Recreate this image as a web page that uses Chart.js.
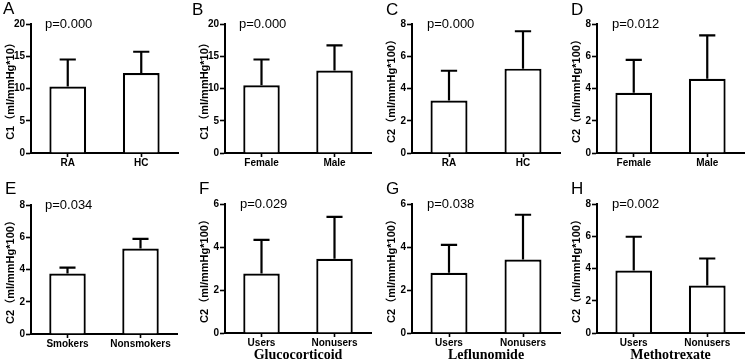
<!DOCTYPE html>
<html>
<head>
<meta charset="utf-8">
<script src="https://cdn.jsdelivr.net/npm/chart.js@4.4.1/dist/chart.umd.min.js"></script>
<style>
    html, body { margin: 0; padding: 0; background: #fff; }
    #wrap { position: relative; width: 746px; height: 364px; }
    #wrap canvas { position: absolute; left: 0; top: 0; }
</style>
</head>
<body>
<div id="wrap"></div>
<script>
// bar = mean, whisker = mean + SD
const labelsA = ['RA', 'HC'];
const meanA = [10.3, 12.4];
const sdA = [4.2, 3.3];

const labelsB = ['Female', 'Male'];
const meanB = [10.5, 12.8];
const sdB = [4.0, 3.9];

const labelsC = ['RA', 'HC'];
const meanC = [3.25, 5.23];
const sdC = [1.85, 2.32];

const labelsD = ['Female', 'Male'];
const meanD = [3.74, 4.6];
const sdD = [2.04, 2.7];

const labelsE = ['Smokers', 'Nonsmokers'];
const meanE = [3.75, 5.3];
const sdE = [0.37, 0.6];

const labelsF = ['Users', 'Nonusers'];
const meanF = [2.77, 3.45];
const sdF = [1.56, 1.95];

const labelsG = ['Users', 'Nonusers'];
const meanG = [2.8, 3.42];
const sdG = [1.3, 2.08];

const labelsH = ['Users', 'Nonusers'];
const meanH = [3.88, 2.95];
const sdH = [2.09, 1.67];

const pValues = ['p=0.000', 'p=0.000', 'p=0.000', 'p=0.012', 'p=0.034', 'p=0.029', 'p=0.038', 'p=0.002'];
const yTitleC1 = 'C1（ml/mmHg*10）';
const yTitleC2 = 'C2（ml/mmHg*100）';

const SANS = "'Liberation Sans', Arial, 'Noto Sans CJK SC', sans-serif";
const SERIF = "'Liberation Serif', 'Times New Roman', serif";
const W = 746, H = 364;

// layout of each panel: chart area box, letter and p-value positions
const panels = [
    { letter: 'A', labels: labelsA, mean: meanA, sd: sdA, max: 20, step: 5, yTitle: yTitleC1, box: [31, 178, 24, 153], lx: 3, ly: 14, px: 45, py: 28 },
    { letter: 'B', labels: labelsB, mean: meanB, sd: sdB, max: 20, step: 5, yTitle: yTitleC1, box: [225, 371, 24, 153], lx: 192, ly: 15, px: 239, py: 28 },
    { letter: 'C', labels: labelsC, mean: meanC, sd: sdC, max: 8, step: 2, yTitle: yTitleC2, box: [412, 560, 24, 153], lx: 386, ly: 15, px: 427, py: 28 },
    { letter: 'D', labels: labelsD, mean: meanD, sd: sdD, max: 8, step: 2, yTitle: yTitleC2, box: [597, 744, 24, 153], lx: 571, ly: 15, px: 612, py: 28 },
    { letter: 'E', labels: labelsE, mean: meanE, sd: sdE, max: 8, step: 2, yTitle: yTitleC2, box: [31, 177, 205, 334], lx: 5, ly: 194, px: 45, py: 209 },
    { letter: 'F', labels: labelsF, mean: meanF, sd: sdF, max: 6, step: 2, yTitle: yTitleC2, box: [225, 371, 204, 333], lx: 199, ly: 194, px: 240, py: 208, xTitle: 'Glucocorticoid' },
    { letter: 'G', labels: labelsG, mean: meanG, sd: sdG, max: 6, step: 2, yTitle: yTitleC2, box: [412, 560, 204, 333], lx: 386, ly: 194, px: 427, py: 208, xTitle: 'Leflunomide' },
    { letter: 'H', labels: labelsH, mean: meanH, sd: sdH, max: 8, step: 2, yTitle: yTitleC2, box: [597, 744, 204, 333], lx: 571, ly: 194, px: 612, py: 208, xTitle: 'Methotrexate' },
];

const errorBars = {
    id: 'errorBars',
    afterDatasetsDraw(chart) {
        const { ctx, scales: { y } } = chart;
        const ds = chart.data.datasets[0];
        ctx.save();
        ctx.strokeStyle = '#000';
        ctx.lineWidth = 2.2;
        chart.getDatasetMeta(0).data.forEach((bar, i) => {
            const top = y.getPixelForValue(ds.data[i] + ds.sd[i]);
            const half = bar.width * 0.22;
            ctx.beginPath();
            ctx.moveTo(bar.x, bar.y);
            ctx.lineTo(bar.x, top);
            ctx.moveTo(bar.x - half, top);
            ctx.lineTo(bar.x + half, top);
            ctx.stroke();
        });
        ctx.restore();
    }
};

const panelText = {
    id: 'panelText',
    afterDraw(chart, args, opts) {
        const { ctx } = chart;
        ctx.save();
        ctx.fillStyle = '#000';
        ctx.textBaseline = 'alphabetic';
        ctx.textAlign = 'left';
        ctx.font = `17px ${SANS}`;
        ctx.fillText(opts.letter, opts.lx, opts.ly);
        ctx.font = `13px ${SANS}`;
        ctx.fillText(opts.p, opts.px, opts.py);
        ctx.restore();
    }
};

const wrap = document.getElementById('wrap');
const YW = 27;

panels.forEach((p, idx) => {
    const canvas = document.createElement('canvas');
    canvas.width = W;
    canvas.height = H;
    wrap.appendChild(canvas);
    const [left, right, top, bottom] = p.box;
    const xH = p.xTitle ? H - bottom : 22;
    const axisGrid = (len) => ({ display: true, drawOnChartArea: false, drawTicks: true, tickLength: len, tickWidth: 1.6, tickColor: '#000', offset: false });

    new Chart(canvas, {
        type: 'bar',
        data: {
            labels: p.labels,
            datasets: [{
                data: p.mean, sd: p.sd,
                backgroundColor: '#fff', borderColor: '#000', borderWidth: 2.2, borderSkipped: 'bottom',
                barPercentage: 0.5, categoryPercentage: 1,
            }],
        },
        options: {
            responsive: false, animation: false, events: [],
            layout: { padding: { left: left - YW, right: W - right, top: top, bottom: H - bottom - xH } },
            plugins: {
                legend: { display: false }, tooltip: { enabled: false },
                panelText: { letter: p.letter, lx: p.lx, ly: p.ly, p: pValues[idx], px: p.px, py: p.py },
            },
            scales: {
                x: {
                    z: 1,
                    grid: axisGrid(4),
                    border: { display: true, color: '#000', width: 2 },
                    ticks: { color: '#000', padding: 0, maxRotation: 0, autoSkip: false, font: { family: SANS, size: 10, weight: 'bold' } },
                    title: { display: !!p.xTitle, text: p.xTitle || '', color: '#000', padding: 0, font: { family: SERIF, size: 14, weight: 'bold' } },
                    afterFit: (s) => { s.height = xH; },
                },
                y: {
                    z: 1,
                    min: 0, max: p.max,
                    grid: axisGrid(5),
                    border: { display: true, color: '#000', width: 2 },
                    ticks: { stepSize: p.step, color: '#000', padding: 1, font: { family: SANS, size: 10, weight: 'bold' } },
                    title: { display: true, text: p.yTitle, color: '#000', padding: 0, font: { family: SANS, size: 11, weight: 'bold' } },
                    afterFit: (s) => { s.width = YW; },
                },
            },
        },
        plugins: [errorBars, panelText],
    });
});
</script>
</body>
</html>
